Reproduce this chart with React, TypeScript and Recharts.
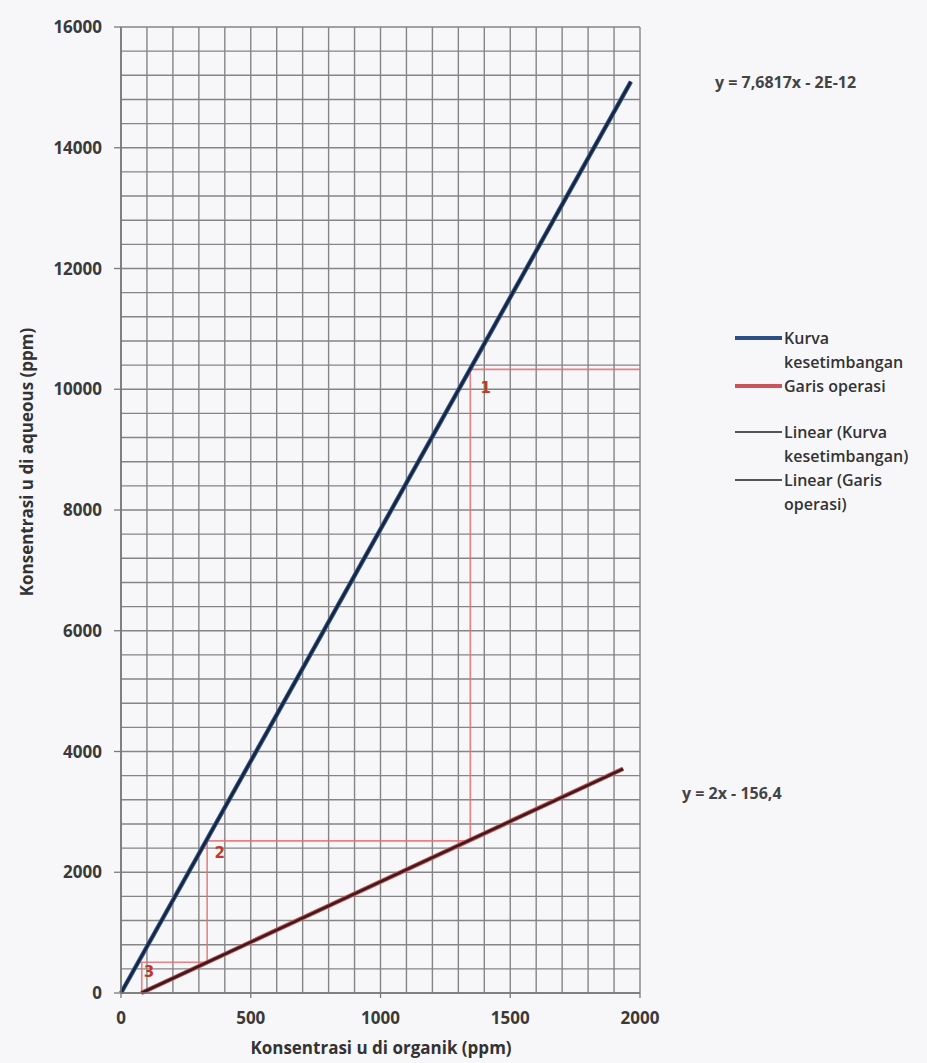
import { ComposedChart, Line, XAxis, YAxis, CartesianGrid, Legend, ReferenceDot, Label, Customized } from 'recharts';

// values
const xLabels = [0, 500, 1000, 1500, 2000];
const yLabels = [0, 2000, 4000, 6000, 8000, 10000, 12000, 14000, 16000];
const xGrid = Array.from({ length: 21 }, (_, i) => i * 100);
const yGrid = Array.from({ length: 41 }, (_, i) => i * 400);

const kurvaData = [
  { x: 0, y: 0 },
  { x: 1965, y: 15094 },
];
const operasiData = [
  { x: 78.2, y: 0 },
  { x: 1935, y: 3714 },
];
const kurvaTrend = [
  { x: 0, y: 0 },
  { x: 1965, y: 15094 },
];
const operasiTrend = [
  { x: 78.2, y: 0 },
  { x: 1935, y: 3714 },
];
// hand-drawn stage steps (red pen)
const stepData = [
  { x: 2000, y: 10330 },
  { x: 1346, y: 10330 },
  { x: 1346, y: 2520 },
  { x: 332, y: 2520 },
  { x: 332, y: 510 },
  { x: 72, y: 510 },
  { x: 80, y: 510 },
  { x: 80, y: 0 },
];
const stepLabels = [
  { x: 1405, y: 10020, text: '1' },
  { x: 380, y: 2320, text: '2' },
  { x: 108, y: 350, text: '3' },
];

const legendItems = [
  { name: 'Kurva kesetimbangan', lines: ['Kurva', 'kesetimbangan'], color: '#2b4f86', width: 4, gap: 0 },
  { name: 'Garis operasi', lines: ['Garis operasi'], color: '#c9555a', width: 4, gap: 0 },
  { name: 'Linear (Kurva kesetimbangan)', lines: ['Linear (Kurva', 'kesetimbangan)'], color: '#555', width: 2, gap: 22 },
  { name: 'Linear (Garis operasi)', lines: ['Linear (Garis', 'operasi)'], color: '#555', width: 2, gap: 0 },
];

const FONT = '"Open Sans", "Noto Sans", sans-serif';

function XTick({ x, y, payload }: any) {
  if (!xLabels.includes(payload.value)) return <g />;
  return (
    <g>
      <line x1={x} x2={x} y1={y} y2={y + 5} stroke="#7a7a7a" strokeWidth={1.3} />
      <text x={x} y={y + 31} textAnchor="middle" fontSize={17} fontWeight={700} fill="#3a3a3a" fontFamily={FONT}>
        {payload.value}
      </text>
    </g>
  );
}

function YTick({ x, y, payload }: any) {
  if (!yLabels.includes(payload.value)) return <g />;
  return (
    <g>
      <line x1={x - 7} x2={x} y1={y} y2={y} stroke="#7a7a7a" strokeWidth={1.3} />
      <text x={x - 19} y={y + 6} textAnchor="end" fontSize={17} fontWeight={700} fill="#3a3a3a" fontFamily={FONT}>
        {payload.value}
      </text>
    </g>
  );
}

function LegendBox() {
  return (
    <div style={{ fontFamily: FONT, fontSize: 16, fontWeight: 600, color: '#333', lineHeight: '24px' }}>
      {legendItems.map((it) => (
        <div key={it.name} style={{ display: 'flex', alignItems: 'flex-start', marginTop: it.gap }}>
          <div style={{ width: 47, height: 24, display: 'flex', alignItems: 'center' }}>
            <div style={{ width: 47, height: it.width, background: it.color }} />
          </div>
          <div style={{ paddingLeft: 2 }}>
            {it.lines.map((l) => (
              <div key={l} style={{ whiteSpace: 'nowrap' }}>{l}</div>
            ))}
          </div>
        </div>
      ))}
    </div>
  );
}

function Equations() {
  return (
    <g fontFamily={FONT} fontSize={16} fontWeight={700} fill="#444">
      <text x={715} y={88}>y = 7,6817x - 2E-12</text>
      <text x={682} y={799}>y = 2x - 156,4</text>
    </g>
  );
}

export default function App() {
  return (
    <div style={{ width: 927, height: 1063, background: '#f7f7fa', position: 'relative' }}>
      <style>{`body{margin:0}`}</style>
      <ComposedChart width={927} height={1063} margin={{ top: 27, right: 287, bottom: 0, left: 0 }} style={{ fontFamily: FONT }}>
        <CartesianGrid stroke="#858585" strokeWidth={1.4} />
        <XAxis
          type="number"
          dataKey="x"
          domain={[0, 2000]}
          ticks={xGrid}
          interval={0}
          height={70}
          tickSize={0}
          tickMargin={0}
          tickLine={false}
          axisLine={{ stroke: '#777', strokeWidth: 1.6 }}
          tick={<XTick />}
        >
          <Label
            content={() => (
              <text x={381} y={1054} textAnchor="middle" fontSize={17} fontWeight={700} fill="#333" fontFamily={FONT}>
                Konsentrasi u di organik (ppm)
              </text>
            )}
          />
        </XAxis>
        <YAxis
          type="number"
          domain={[0, 16000]}
          ticks={yGrid}
          interval={0}
          width={121}
          tickSize={0}
          tickMargin={0}
          tickLine={false}
          axisLine={{ stroke: '#777', strokeWidth: 1.6 }}
          tick={<YTick />}
        >
          <Label
            content={() => (
              <text
                x={28}
                y={462}
                transform="rotate(-90 28 462)"
                textAnchor="middle"
                dominantBaseline="middle"
                fontSize={17}
                fontWeight={700}
                fill="#333"
                fontFamily={FONT}
              >
                Konsentrasi u di aqueous (ppm)
              </text>
            )}
          />
        </YAxis>
        <Line data={stepData} dataKey="y" name="steps" stroke="#e46f70" strokeWidth={1.6} strokeOpacity={0.85} dot={false} activeDot={false} legendType="none" isAnimationActive={false} />
        <Line data={kurvaData} dataKey="y" name="Kurva kesetimbangan" stroke="#2f5a99" strokeWidth={4.5} dot={false} activeDot={false} isAnimationActive={false} />
        <Line data={operasiData} dataKey="y" name="Garis operasi" stroke="#c0504d" strokeWidth={4.5} dot={false} activeDot={false} isAnimationActive={false} />
        <Line data={kurvaTrend} dataKey="y" name="Linear (Kurva kesetimbangan)" stroke="#1b2335" strokeWidth={2.5} dot={false} activeDot={false} isAnimationActive={false} />
        <Line data={operasiTrend} dataKey="y" name="Linear (Garis operasi)" stroke="#3b1a22" strokeWidth={2.5} dot={false} activeDot={false} isAnimationActive={false} />
        {stepLabels.map((s) => (
          <ReferenceDot
            key={s.text}
            x={s.x}
            y={s.y}
            r={0}
            fill="none"
            stroke="none"
            label={{ value: s.text, position: 'center', fill: '#c0392b', fontSize: 15, fontWeight: 600, fontFamily: 'DejaVu Sans' }}
          />
        ))}
        <Customized component={Equations} />
        <Legend
          layout="horizontal"
          verticalAlign="middle"
          align="center"
          content={() => <LegendBox />}
          wrapperStyle={{ position: 'absolute', left: 735, top: 326, width: 192, height: 200 }}
        />
      </ComposedChart>
    </div>
  );
}
